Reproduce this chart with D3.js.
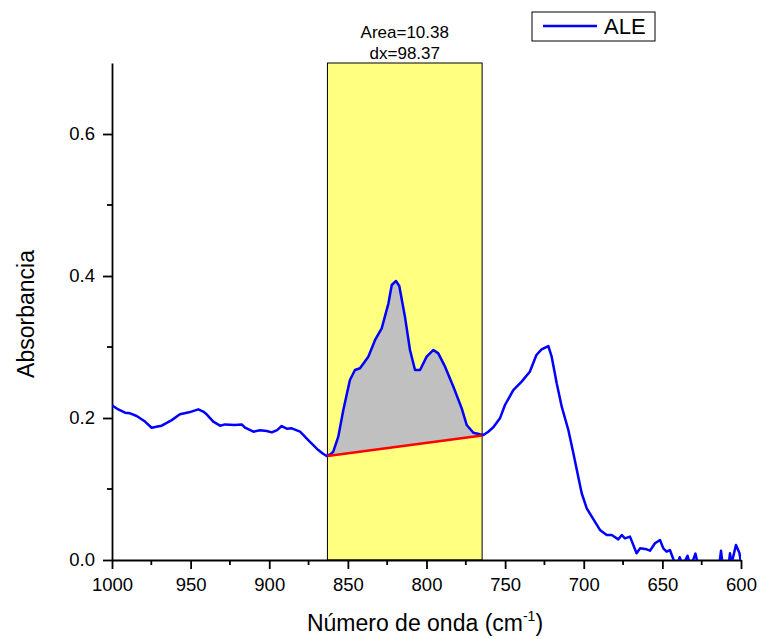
<!DOCTYPE html>
<html><head><meta charset="utf-8">
<script src="https://cdn.jsdelivr.net/npm/d3@7/dist/d3.min.js"></script>
<style>body{margin:0;background:#fff}svg{display:block}text{font-family:"Liberation Sans",Arial,sans-serif}</style>
</head><body>
<script>
const wavenumber = [1000,996,991.7,988.5,984.3,979,974.8,971,968.4,962,956.8,951,945.1,942,939.8,935.6,931.3,928.1,922,917.5,915.4,910.1,905.9,901.6,898.4,895,892.1,888.9,885.7,880.4,875.2,868.8,866,863.5,861,859.3,856.1,852.9,848.7,845.5,842.3,837,832.7,828.5,824.2,822.1,819.4,817.3,813.7,810.5,807.3,804.1,799.9,795.6,792.5,788.2,782.9,777.6,774.4,770.2,766,763.8,760.7,757.5,753.3,750.1,744.8,739.5,734.3,730.1,726.8,722.5,720.4,717.2,714,709.8,706.6,703.5,701.3,698.1,694.9,689.7,685.4,682.2,678,675.8,673.8,670.6,666.4,664.2,660,657.9,654.7,651.5,649.4,647.3,645.2,643,641,639,637,634,632,629,627,614,612.7,611.5,608,607,606,603.2,601,599.6];
const absorbance = [0.218,0.212,0.2075,0.2066,0.2028,0.195,0.1863,0.188,0.1892,0.197,0.2052,0.208,0.2122,0.209,0.2052,0.1948,0.1892,0.191,0.19,0.191,0.1863,0.1807,0.1827,0.1817,0.1798,0.183,0.1887,0.185,0.1855,0.1807,0.169,0.1549,0.15,0.1465,0.149,0.1526,0.1737,0.2113,0.2535,0.2676,0.27,0.2864,0.3099,0.3263,0.3615,0.3873,0.393,0.386,0.3427,0.2958,0.2676,0.2676,0.2864,0.2958,0.291,0.2723,0.2441,0.2136,0.1901,0.1793,0.177,0.176,0.1807,0.1869,0.1995,0.2183,0.2394,0.2512,0.2652,0.2887,0.2967,0.3014,0.2864,0.2488,0.2159,0.1831,0.1503,0.1173,0.094,0.0728,0.061,0.0423,0.0352,0.0352,0.0291,0.0352,0.0305,0.0329,0.0094,0.0164,0.015,0.0131,0.0235,0.0282,0.0164,0.0117,0.014,0.001,-0.01,0.004,-0.008,0.006,-0.01,0.009,-0.01,-0.01,0.013,-0.01,-0.01,0.0094,-0.005,0.021,0.01,-0.01];
const regionX = [863.0, 764.63];
const baselineY = [0.1465, 0.1755];
const annotation = ["Area=10.38", "dx=98.37"];
const xTicks = [1000,950,900,850,800,750,700,650,600];
const yTicks = [0.0,0.2,0.4,0.6];
const seriesName = "ALE";

const W = 760, H = 639;
const m = {l:112, r:741, t:63, b:560};
const svg = d3.select("body").append("svg").attr("width",W).attr("height",H);
const x = d3.scaleLinear().domain([1000,600]).range([m.l,m.r]);
const y = d3.scaleLinear().domain([0,0.7]).range([m.b,m.t]);

const data = wavenumber.map((w,i)=>({w, a:absorbance[i]}));
svg.append("defs").append("clipPath").attr("id","clip").append("rect")
  .attr("x",m.l).attr("y",m.t).attr("width",m.r-m.l).attr("height",m.b-m.t);

// highlight region
svg.append("rect").attr("x",x(regionX[0])).attr("y",y(0.7))
  .attr("width",x(regionX[1])-x(regionX[0])).attr("height",y(0)-y(0.7))
  .attr("fill","#ffff80").attr("stroke","#000").attr("stroke-width",1);

function interpCurve(w){
  for(let i=0;i<data.length-1;i++){
    const p=data[i], q=data[i+1];
    if(w<=p.w && w>=q.w){ const t=(p.w-w)/(p.w-q.w); return p.a+t*(q.a-p.a); }
  }
  return null;
}
function base(w){ const t=(regionX[0]-w)/(regionX[0]-regionX[1]); return baselineY[0]+t*(baselineY[1]-baselineY[0]); }
const areaPts = [{w:regionX[0], a:interpCurve(regionX[0])}]
  .concat(data.filter(d=>d.w<regionX[0] && d.w>regionX[1]))
  .concat([{w:regionX[1], a:interpCurve(regionX[1])}]);
svg.append("path").datum(areaPts)
  .attr("d", d3.area().x(d=>x(d.w)).y0(d=>y(base(d.w))).y1(d=>y(d.a)))
  .attr("fill","#c0c0c0");

// axes
const xAxis = d3.axisBottom(x).tickValues(xTicks).tickFormat(d3.format("d")).tickSize(9).tickSizeOuter(0);
const gx = svg.append("g").attr("transform",`translate(0,${m.b})`).call(xAxis);
gx.selectAll(".tick line").attr("stroke-width",1.8);
gx.select(".domain").attr("stroke-width",1.8);
gx.selectAll("text").attr("font-size",18.5).attr("dy","1.0em").attr("fill","#000");
const xMinor = d3.range(975,600,-50);
svg.append("g").selectAll("line").data(xMinor).join("line")
  .attr("x1",d=>x(d)).attr("x2",d=>x(d)).attr("y1",m.b).attr("y2",m.b+5)
  .attr("stroke","#000").attr("stroke-width",1.8);

const yAxis = d3.axisLeft(y).tickValues(yTicks).tickFormat(d3.format(".1f")).tickSize(9).tickSizeOuter(0);
const gy = svg.append("g").attr("transform",`translate(${m.l},0)`).call(yAxis);
gy.selectAll(".tick line").attr("stroke-width",1.8);
gy.select(".domain").attr("stroke-width",1.8);
gy.selectAll("text").attr("font-size",18.5).attr("fill","#000").attr("x",-17);
svg.append("g").selectAll("line").data([0.1,0.3,0.5]).join("line")
  .attr("x1",m.l-5).attr("x2",m.l).attr("y1",d=>y(d)).attr("y2",d=>y(d))
  .attr("stroke","#000").attr("stroke-width",1.8);

// curve
svg.append("path").datum(data).attr("clip-path","url(#clip)")
  .attr("d", d3.line().x(d=>x(d.w)).y(d=>y(d.a)))
  .attr("fill","none").attr("stroke","#0000ff").attr("stroke-width",2.5).attr("stroke-linejoin","round");

// baseline
svg.append("line").attr("x1",x(regionX[0])).attr("y1",y(baselineY[0]))
  .attr("x2",x(regionX[1])).attr("y2",y(baselineY[1]))
  .attr("stroke","#ff0000").attr("stroke-width",2.5);

// annotation
const cx = (x(regionX[0])+x(regionX[1]))/2;
svg.append("text").attr("x",cx).attr("y",38).attr("text-anchor","middle").attr("font-size",17).text(annotation[0]);
svg.append("text").attr("x",cx).attr("y",59).attr("text-anchor","middle").attr("font-size",17).text(annotation[1]);

// legend
svg.append("rect").attr("x",532).attr("y",12).attr("width",123).attr("height",29)
  .attr("fill","#fff").attr("stroke","#000").attr("stroke-width",1);
svg.append("line").attr("x1",543).attr("x2",597).attr("y1",26).attr("y2",26)
  .attr("stroke","#0000ff").attr("stroke-width",2.5);
svg.append("text").attr("x",604).attr("y",34).attr("font-size",22).text(seriesName);

// axis titles
const xt = svg.append("text").attr("x",425).attr("y",631).attr("text-anchor","middle").attr("font-size",23);
xt.append("tspan").text("Número de onda (cm");
xt.append("tspan").attr("font-size",14).attr("dy",-10).text("-1");
xt.append("tspan").attr("dy",10).text(")");
svg.append("text").attr("transform","translate(34,314) rotate(-90)").attr("text-anchor","middle")
  .attr("font-size",23).text("Absorbancia");
</script>
</body></html>
